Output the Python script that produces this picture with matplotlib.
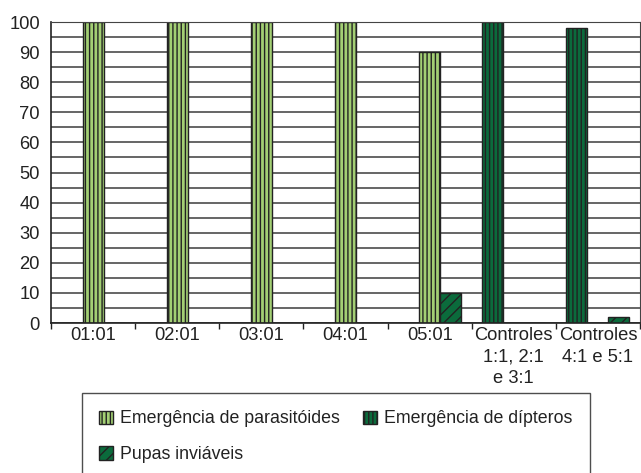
import numpy as np
import matplotlib
matplotlib.use("Agg")
import matplotlib.pyplot as plt
from matplotlib.patches import Patch

# data
categories = ["01:01", "02:01", "03:01", "04:01", "05:01",
              "Controles\n1:1, 2:1\ne 3:1", "Controles\n4:1 e 5:1"]
parasitoides = [100, 100, 100, 100, 90, 0, 0]
dipteros = [0, 0, 0, 0, 0, 100, 98]
pupas = [0, 0, 0, 0, 10, 0, 2]

light_green = "#a3cf74"
dark_green = "#0b6b3c"
edge = "#222222"
fs = 13.2

plt.rcParams["font.family"] = ["Liberation Sans", "DejaVu Sans"]
plt.rcParams["hatch.linewidth"] = 1.0

fig = plt.figure(figsize=(6.41, 4.73), dpi=100)
ax = fig.add_axes([51 / 641, 1 - 323 / 473, 589 / 641, 301 / 473])

x = np.arange(len(categories))
w = 0.25

ax.set_axisbelow(True)
ax.bar(x - w, dipteros, w, color=dark_green, edgecolor=edge, hatch="||||", linewidth=1.0)
ax.bar(x, parasitoides, w, color=light_green, edgecolor=edge, hatch="||||", linewidth=1.0)
ax.bar(x + w, pupas, w, color=dark_green, edgecolor=edge, hatch="///", linewidth=1.0)

ax.set_xlim(-0.5, len(categories) - 0.5)
ax.set_ylim(0, 100)
ax.set_yticks(range(0, 101, 10))
ax.set_yticks(range(5, 100, 10), minor=True)
ax.grid(axis="y", which="both", color="#3c3c3c", linewidth=1.1)

# ticks between groups, labels at group centres
ax.set_xticks(np.arange(-0.5, len(categories), 1.0))
ax.set_xticklabels([])
ax.set_xticks(x, minor=True)
ax.set_xticklabels(categories, minor=True, fontsize=fs, color="#222222",
                   linespacing=1.35)
ax.tick_params(axis="x", which="major", length=4, width=1, color="#222222")
ax.tick_params(axis="x", which="minor", length=0, pad=3)
ax.tick_params(axis="y", which="both", length=0, pad=8, labelsize=fs,
               labelcolor="#222222")

for s in ["top", "right"]:
    ax.spines[s].set_color("#444444")
for s in ["left", "bottom"]:
    ax.spines[s].set_color("#222222")
    ax.spines[s].set_linewidth(1.2)

handles = [
    Patch(facecolor=light_green, edgecolor=edge, hatch="||||", label="Emergência de parasitóides"),
    Patch(facecolor=dark_green, edgecolor=edge, hatch="///", label="Pupas inviáveis"),
    Patch(facecolor=dark_green, edgecolor=edge, hatch="||||", label="Emergência de dípteros"),
]
leg = fig.legend(handles=handles, ncol=2, loc="upper left",
                 bbox_to_anchor=(82 / 641, 1 - 393 / 473),
                 fontsize=12.8, frameon=True, fancybox=False,
                 handlelength=0.78, handleheight=0.78, handletextpad=0.4,
                 columnspacing=1.3, labelspacing=1.05,
                 borderpad=0.98, borderaxespad=0)
leg.get_frame().set_edgecolor("#222222")
leg.get_frame().set_linewidth(1.0)
for t in leg.get_texts():
    t.set_color("#222222")

fig.savefig("out.png", dpi=100)
